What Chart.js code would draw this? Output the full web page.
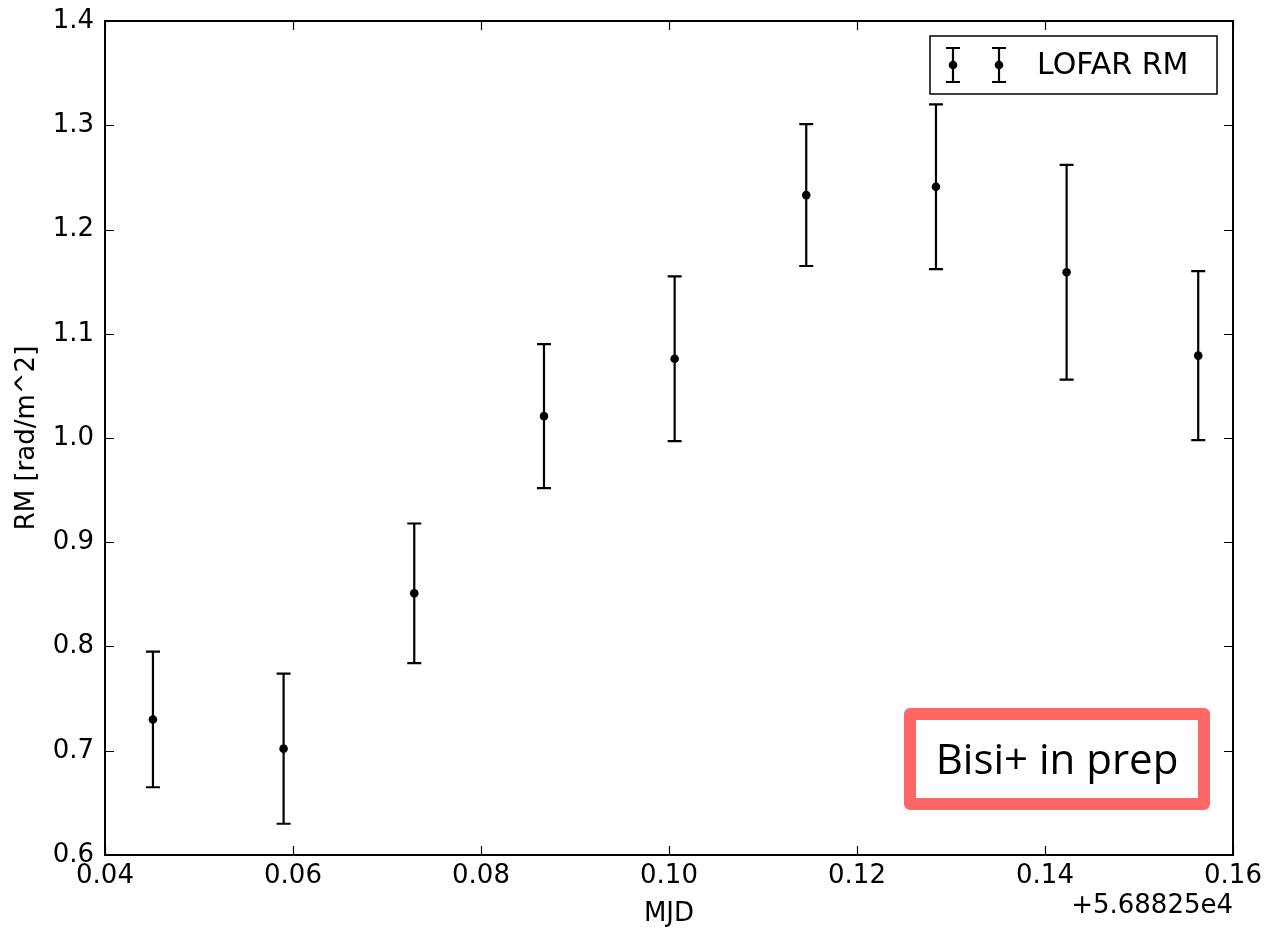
<!DOCTYPE html>
<html>
<head>
<meta charset="utf-8">
<script src="https://cdn.jsdelivr.net/npm/chart.js@4.4.1/dist/chart.umd.min.js"></script>
<style>
  html, body { margin: 0; padding: 0; background: #fff; }
  #wrap { width: 1268px; height: 930px; }
</style>
</head>
<body>
<div id="wrap"><canvas id="chart" width="1268" height="930"></canvas></div>
<script>
// MJD offset from +5.68825e4
const mjd = [0.0451, 0.0590, 0.0729, 0.0867, 0.1006, 0.1146, 0.1284, 0.1423, 0.1563];
// rotation measure [rad/m^2]
const rm = [0.730, 0.702, 0.851, 1.021, 1.076, 1.233, 1.241, 1.159, 1.079];
const rmErr = [0.065, 0.072, 0.067, 0.069, 0.079, 0.068, 0.079, 0.103, 0.081];

const xTicks = [0.04, 0.06, 0.08, 0.10, 0.12, 0.14, 0.16];
const yTicks = [0.6, 0.7, 0.8, 0.9, 1.0, 1.1, 1.2, 1.3, 1.4];

const offsetText = '+5.68825e4';
const seriesName = 'LOFAR RM';
const noteText = 'Bisi+ in prep';

const fontFamily = '"DejaVu Sans", Verdana, sans-serif';

const points = mjd.map((x, i) => ({ x: x, y: rm[i] }));

// error bars drawn from the scales
const errorBars = {
  id: 'errorBars',
  beforeDatasetsDraw(chart) {
    const { ctx, scales: { x, y } } = chart;
    ctx.save();
    ctx.strokeStyle = '#000';
    ctx.lineWidth = 2.2;
    mjd.forEach((v, i) => {
      const px = x.getPixelForValue(v);
      const top = y.getPixelForValue(rm[i] + rmErr[i]);
      const bot = y.getPixelForValue(rm[i] - rmErr[i]);
      ctx.beginPath();
      ctx.moveTo(px, top);
      ctx.lineTo(px, bot);
      ctx.moveTo(px - 7, top);
      ctx.lineTo(px + 7, top);
      ctx.moveTo(px - 7, bot);
      ctx.lineTo(px + 7, bot);
      ctx.stroke();
    });
    ctx.restore();
  },
};

// matplotlib style frame, inward ticks, offset text, legend and note
const decorations = {
  id: 'decorations',
  afterDraw(chart) {
    const { ctx, chartArea: a, scales: { x, y } } = chart;
    ctx.save();

    ctx.strokeStyle = '#000';
    ctx.lineWidth = 1.2;
    ctx.beginPath();
    xTicks.forEach((t) => {
      const px = Math.round(x.getPixelForValue(t)) + 0.5;
      ctx.moveTo(px, a.bottom);
      ctx.lineTo(px, a.bottom - 9);
      ctx.moveTo(px, a.top);
      ctx.lineTo(px, a.top + 9);
    });
    yTicks.forEach((t) => {
      const py = Math.round(y.getPixelForValue(t)) + 0.5;
      ctx.moveTo(a.left, py);
      ctx.lineTo(a.left + 9, py);
      ctx.moveTo(a.right, py);
      ctx.lineTo(a.right - 9, py);
    });
    ctx.stroke();

    ctx.lineWidth = 2;
    ctx.strokeRect(a.left, a.top, a.right - a.left, a.bottom - a.top);

    // offset text
    ctx.fillStyle = '#000';
    ctx.font = '26px ' + fontFamily;
    ctx.textAlign = 'right';
    ctx.textBaseline = 'middle';
    ctx.fillText(offsetText, a.right, 906);

    // legend
    ctx.fillStyle = '#fff';
    ctx.fillRect(930, 36, 287, 58);
    ctx.lineWidth = 1.5;
    ctx.strokeStyle = '#000';
    ctx.strokeRect(930, 36, 287, 58);
    [953, 999].forEach((lx) => {
      ctx.lineWidth = 2.2;
      ctx.beginPath();
      ctx.moveTo(lx, 48);
      ctx.lineTo(lx, 82);
      ctx.moveTo(lx - 7, 48);
      ctx.lineTo(lx + 7, 48);
      ctx.moveTo(lx - 7, 82);
      ctx.lineTo(lx + 7, 82);
      ctx.stroke();
      ctx.fillStyle = '#000';
      ctx.beginPath();
      ctx.arc(lx, 65, 4.3, 0, Math.PI * 2);
      ctx.fill();
    });
    ctx.font = '30px ' + fontFamily;
    ctx.textAlign = 'left';
    ctx.fillText(seriesName, 1037, 66);

    // note box
    ctx.fillStyle = '#fff';
    ctx.fillRect(910, 714, 294, 90);
    ctx.strokeStyle = '#ff6666';
    ctx.lineWidth = 12;
    ctx.lineJoin = 'round';
    ctx.strokeRect(910, 714, 294, 90);
    ctx.fillStyle = '#000';
    ctx.font = '42px "Open Sans", "Noto Sans", sans-serif';
    ctx.textAlign = 'center';
    ctx.fillText(noteText, 1057, 762);

    ctx.restore();
  },
};

const chart = new Chart(document.getElementById('chart'), {
  type: 'scatter',
  data: {
    datasets: [{
      label: seriesName,
      data: points,
      showLine: false,
      pointRadius: 4.3,
      pointHoverRadius: 4.3,
      pointBackgroundColor: '#000',
      pointBorderColor: '#000',
      pointBorderWidth: 0,
    }],
  },
  plugins: [errorBars, decorations],
  options: {
    responsive: false,
    animation: false,
    devicePixelRatio: 1,
    layout: { padding: { left: 0, right: 35, top: 21, bottom: 0 } },
    plugins: {
      legend: { display: false },
      tooltip: { enabled: false },
    },
    scales: {
      x: {
        type: 'linear',
        min: 0.04,
        max: 0.16,
        afterBuildTicks: (scale) => { scale.ticks = xTicks.map((v) => ({ value: v })); },
        afterFit: (scale) => {
          scale.height = 75;
          scale.paddingLeft = 0;
          scale.paddingRight = 0;
        },
        grid: { display: false, drawTicks: false },
        border: { display: false },
        ticks: {
          padding: 6,
          color: '#000',
          font: { family: fontFamily, size: 26 },
          callback: (v) => Number(v).toFixed(2),
        },
        title: {
          display: true,
          text: 'MJD',
          color: '#000',
          font: { family: fontFamily, size: 26 },
          padding: { top: 0, bottom: 0 },
        },
      },
      y: {
        type: 'linear',
        min: 0.6,
        max: 1.4,
        afterBuildTicks: (scale) => { scale.ticks = yTicks.map((v) => ({ value: v })); },
        afterFit: (scale) => {
          scale.width = 105;
          scale.paddingTop = 0;
          scale.paddingBottom = 0;
        },
        grid: { display: false, drawTicks: false },
        border: { display: false },
        ticks: {
          padding: 11,
          color: '#000',
          font: { family: fontFamily, size: 26 },
          callback: (v) => Number(v).toFixed(1),
        },
        title: {
          display: true,
          text: 'RM [rad/m^2]',
          color: '#000',
          font: { family: fontFamily, size: 26 },
          padding: { top: 12, bottom: 0 },
        },
      },
    },
  },
});
</script>
</body>
</html>
